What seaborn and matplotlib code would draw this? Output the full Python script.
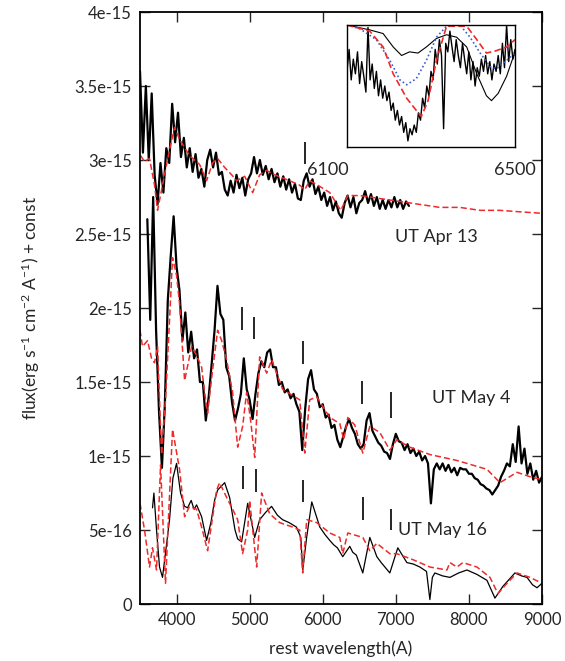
import numpy as np
import matplotlib
matplotlib.use("Agg")
import matplotlib.pyplot as plt
import seaborn as sns

# ---------------- data (flux in units of 1e-15) ----------------
# UT Apr 13 observed, sampled every 40 A from 3500 A
apr13_step = 40
apr13_flux = [3.60, 3.05, 3.50, 3.00, 3.45, 2.90, 2.70, 2.98, 2.78, 3.08,
              2.98, 3.38, 3.12, 3.32, 3.02, 3.15, 2.95, 3.08, 2.92, 3.04,
              2.88, 2.94, 2.82, 3.00, 3.07, 2.95, 3.05, 2.90, 2.92, 2.80,
              2.76, 2.86, 2.78, 2.90, 2.81, 2.88, 2.76, 2.87, 2.91, 3.02,
              2.91, 3.00, 2.90, 2.96, 2.87, 2.94, 2.85, 2.91, 2.82, 2.89,
              2.80, 2.87, 2.78, 2.84, 2.74, 2.73, 2.86, 2.91, 2.82, 2.87,
              2.77, 2.82, 2.73, 2.78, 2.69, 2.75, 2.66, 2.72, 2.64, 2.61,
              2.71, 2.76, 2.68, 2.75, 2.64, 2.71, 2.73, 2.79, 2.71, 2.77,
              2.69, 2.75, 2.67, 2.73, 2.67, 2.73, 2.68, 2.75, 2.68, 2.73,
              2.67, 2.72, 2.69]
apr13_model_wave = [3507, 3562, 3630, 3699, 3740, 3808, 3904, 3973, 4041, 4178,
                    4315, 4411, 4493, 4562, 4658, 4754, 4822, 4932, 5041, 5137,
                    5233, 5343, 5548, 5685, 5754, 5822, 5932, 6096, 6247, 6343,
                    6507, 6780, 7055, 7330, 7600, 7875, 8150, 8425, 8700, 9000]
apr13_model_flux = [3.03, 2.99, 3.01, 2.83, 2.66, 2.83, 3.07, 3.22, 3.14, 3.03,
                    2.97, 2.86, 2.98, 3.01, 2.95, 2.90, 2.86, 2.89, 2.78, 2.90,
                    2.93, 2.90, 2.86, 2.83, 2.80, 2.86, 2.83, 2.78, 2.66, 2.76,
                    2.76, 2.74, 2.72, 2.70, 2.68, 2.68, 2.66, 2.66, 2.65, 2.64]

# UT May 4 observed, sampled every 40 A from 3600 A
may4_step = 40
may4_flux = [2.60, 1.92, 2.75, 1.85, 1.30, 0.92, 1.35, 2.05, 2.35, 2.62,
             2.28, 2.12, 1.78, 1.97, 1.70, 1.84, 1.66, 1.72, 1.50, 1.50,
             1.24, 1.40, 1.62, 1.85, 2.15, 1.96, 1.92, 1.60, 1.54, 1.36,
             1.24, 1.32, 1.42, 1.66, 1.45, 1.38, 1.25, 1.42, 1.56, 1.64,
             1.60, 1.70, 1.72, 1.60, 1.60, 1.48, 1.50, 1.43, 1.45, 1.39,
             1.42, 1.35, 1.30, 1.04, 1.32, 1.52, 1.58, 1.45, 1.42, 1.33,
             1.35, 1.26, 1.28, 1.19, 1.21, 1.11, 1.06, 1.13, 1.20, 1.25,
             1.19, 1.15, 1.08, 1.05, 1.08, 1.24, 1.29, 1.17, 1.13, 1.09,
             1.07, 1.03, 1.02, 0.98, 1.08, 1.15, 1.10, 1.09, 1.04, 1.08,
             1.02, 1.05, 1.00, 1.03, 0.97, 1.00, 0.95, 0.68, 0.91, 0.95,
             0.91, 0.95, 0.90, 0.94, 0.89, 0.92, 0.87, 0.92, 0.91, 0.91,
             0.88, 0.88, 0.85, 0.84, 0.81, 0.80, 0.78, 0.77, 0.74, 0.77,
             0.80, 0.86, 0.90, 0.95, 0.93, 1.08, 0.96, 1.20, 0.95, 1.05,
             0.88, 0.95, 0.84, 0.90, 0.82, 0.86]
may4_model_wave = [3500, 3534, 3603, 3658, 3699, 3740, 3795, 3849, 3904, 3945,
                   4000, 4041, 4110, 4206, 4274, 4343, 4384, 4425, 4493, 4562,
                   4617, 4685, 4767, 4836, 4904, 4959, 5014, 5069, 5137, 5233,
                   5302, 5452, 5685, 5754, 5822, 5918, 6096, 6233, 6288, 6343,
                   6438, 6548, 6644, 6780, 6918, 7014, 7192, 7466, 7836, 8247,
                   8425, 8658, 8836, 9000]
may4_model_flux = [1.85, 1.74, 1.78, 1.66, 1.63, 1.74, 1.01, 1.38, 1.92, 2.34,
                   2.22, 2.03, 1.51, 1.74, 1.68, 1.60, 1.43, 1.29, 1.58, 1.85,
                   1.78, 1.65, 1.43, 1.06, 1.20, 1.43, 1.24, 0.99, 1.67, 1.56,
                   1.65, 1.45, 1.38, 1.02, 1.38, 1.40, 1.26, 1.22, 1.11, 1.26,
                   1.21, 1.02, 1.20, 1.16, 1.04, 1.11, 1.06, 1.01, 0.97, 0.91,
                   0.82, 0.89, 0.86, 0.84]

# UT May 16 observed (smoothed) and model
may16_wave = [3671, 3690, 3726, 3767, 3808, 3850, 3904, 3950, 4000, 4055,
              4110, 4151, 4200, 4240, 4274, 4343, 4411, 4470, 4520, 4562,
              4658, 4726, 4800, 4836, 4890, 4973, 5069, 5137, 5220, 5300,
              5380, 5450, 5540, 5640, 5700, 5726, 5780, 5850, 5960, 6030,
              6096, 6150, 6200, 6274, 6370, 6410, 6460, 6548, 6644, 6740,
              6800, 6918, 7027, 7151, 7240, 7329, 7420, 7466, 7500, 7534,
              7640, 7740, 7860, 7973, 8110, 8247, 8356, 8466, 8630, 8720,
              8795, 8870, 8932, 9000]
may16_flux = [0.65, 0.75, 0.50, 0.25, 0.18, 0.35, 0.57, 0.85, 0.95, 0.75,
              0.66, 0.65, 0.70, 0.64, 0.67, 0.59, 0.43, 0.55, 0.70, 0.77,
              0.82, 0.72, 0.50, 0.44, 0.42, 0.68, 0.45, 0.57, 0.62, 0.66,
              0.60, 0.57, 0.55, 0.52, 0.45, 0.23, 0.45, 0.69, 0.52, 0.47,
              0.43, 0.40, 0.38, 0.32, 0.39, 0.35, 0.33, 0.21, 0.45, 0.32,
              0.28, 0.21, 0.38, 0.28, 0.27, 0.25, 0.22, 0.03, 0.18, 0.21,
              0.19, 0.18, 0.21, 0.23, 0.20, 0.16, 0.04, 0.12, 0.21, 0.19,
              0.18, 0.13, 0.11, 0.14]
may16_model_wave = [3500, 3562, 3630, 3671, 3726, 3781, 3849, 3945, 4041, 4110,
                    4178, 4274, 4343, 4425, 4548, 4589, 4685, 4767, 4836, 4904,
                    4973, 5000, 5096, 5164, 5274, 5411, 5589, 5685, 5726, 5781,
                    5918, 6096, 6233, 6274, 6343, 6548, 6644, 6740, 6918, 7014,
                    7233, 7466, 7699, 7740, 7836, 7918, 8110, 8288, 8397, 8521,
                    8658, 8836, 9000]
may16_model_flux = [0.68, 0.50, 0.25, 0.38, 0.23, 0.94, 0.14, 1.18, 0.91, 0.59,
                    0.66, 0.64, 0.52, 0.36, 0.77, 0.82, 0.72, 0.64, 0.57, 0.34,
                    0.50, 0.70, 0.25, 0.75, 0.61, 0.55, 0.52, 0.50, 0.21, 0.57,
                    0.55, 0.48, 0.45, 0.34, 0.48, 0.45, 0.36, 0.41, 0.34, 0.34,
                    0.30, 0.25, 0.23, 0.28, 0.25, 0.28, 0.25, 0.18, 0.07, 0.14,
                    0.21, 0.18, 0.14]

# line-identification marks: wavelength, bottom, top
mark_wave = [5754, 4890, 5055, 5726, 6534, 6932, 4904, 5083, 5726, 6548, 6932]
mark_low = [2.97, 1.85, 1.79, 1.62, 1.35, 1.26, 0.78, 0.76, 0.69, 0.57, 0.50]
mark_high = [3.12, 2.01, 1.94, 1.78, 1.51, 1.43, 0.93, 0.91, 0.84, 0.72, 0.64]

epoch_labels = ["UT Apr 13", "UT May 4", "UT May 16"]
epoch_label_x = [6990, 7490, 7027]
epoch_label_y = [2.48, 1.39, 0.50]

# inset: normalised profile around 6100-6500 A
inset_step = 5
inset_obs = [0.62, 0.80, 0.55, 0.72, 0.60, 0.78, 0.52, 0.70, 0.58, 0.45,
             0.98, 0.55, 0.68, 0.48, 0.62, 0.42, 0.55, 0.40, 0.50, 0.38,
             0.45, 0.30, 0.36, 0.22, 0.30, 0.18, 0.25, 0.12, 0.20, 0.05,
             0.15, 0.10, 0.18, 0.12, 0.28, 0.22, 0.40, 0.32, 0.50, 0.42,
             0.62, 0.55, 0.80, 0.68, 0.88, 0.75, 0.15, 0.85, 0.78, 0.95,
             0.82, 0.70, 0.88, 0.75, 0.65, 0.85, 0.72, 0.60, 0.78, 0.55,
             0.70, 0.50, 0.65, 0.58, 0.72, 0.62, 0.75, 0.60, 0.70, 0.55,
             0.68, 0.62, 0.75, 0.60, 0.85, 0.65, 1.00, 0.70, 0.88, 0.72,
             0.80]
inset_red_wave = [6100, 6154, 6186, 6210, 6242, 6265, 6277, 6293, 6313, 6337,
                  6385, 6409, 6432, 6456, 6480, 6500]
inset_red = [1.00, 0.95, 0.82, 0.60, 0.40, 0.30, 0.25, 0.38, 0.71, 0.99,
             0.99, 0.88, 0.77, 0.79, 0.82, 0.88]
inset_blue_wave = [6100, 6130, 6170, 6202, 6226, 6242, 6265, 6289, 6313, 6337,
                   6369, 6393, 6417, 6441, 6456, 6480, 6500]
inset_blue = [1.00, 0.97, 0.88, 0.71, 0.55, 0.51, 0.56, 0.71, 0.90, 0.99,
              1.00, 0.90, 0.77, 0.66, 0.64, 0.71, 0.77]
inset_thin_wave = [6100, 6154, 6186, 6210, 6230, 6249, 6269, 6289, 6313, 6337,
                   6361, 6385, 6409, 6432, 6444, 6460, 6480, 6496, 6500]
inset_thin = [1.00, 0.96, 0.93, 0.82, 0.75, 0.78, 0.77, 0.82, 0.89, 0.92,
              0.90, 0.82, 0.60, 0.42, 0.38, 0.44, 0.58, 0.74, 0.77]

x_ticks = [4000, 5000, 6000, 7000, 8000, 9000]
y_ticks = [0, 0.5, 1.0, 1.5, 2.0, 2.5, 3.0, 3.5, 4.0]
y_tick_labels = ["0", "5e-16", "1e-15", "1.5e-15", "2e-15", "2.5e-15",
                 "3e-15", "3.5e-15", "4e-15"]

# ---------------- style ----------------
sns.set_style("ticks")
plt.rcParams['font.family'] = ['Lato', 'DejaVu Sans']
plt.rcParams['mathtext.default'] = 'regular'
plt.rcParams['font.size'] = 12

RED = '#ee2a2a'
BLUE = '#3a5fcd'
dash = (0, (4, 2))

fig = plt.figure(figsize=(5.65, 6.61), dpi=100)
ax = fig.add_axes([0.2478, 0.0862, 0.7115, 0.8956])

apr13_wave = np.arange(len(apr13_flux)) * apr13_step + 3500
may4_wave = np.arange(len(may4_flux)) * may4_step + 3600

sns.lineplot(x=apr13_wave, y=apr13_flux, ax=ax, color='black', lw=1.6,
             estimator=None, sort=False)
sns.lineplot(x=apr13_model_wave, y=apr13_model_flux, ax=ax, color=RED, lw=1.1,
             linestyle=dash, estimator=None, sort=False)
sns.lineplot(x=may4_wave, y=may4_flux, ax=ax, color='black', lw=1.6,
             estimator=None, sort=False)
sns.lineplot(x=may4_model_wave, y=may4_model_flux, ax=ax, color=RED, lw=1.1,
             linestyle=dash, estimator=None, sort=False)
sns.lineplot(x=may16_wave, y=may16_flux, ax=ax, color='black', lw=0.9,
             estimator=None, sort=False)
sns.lineplot(x=may16_model_wave, y=may16_model_flux, ax=ax, color=RED, lw=1.1,
             linestyle=dash, estimator=None, sort=False)

ax.vlines(mark_wave, mark_low, mark_high, color='black', lw=1.2)
for lab, lx, ly in zip(epoch_labels, epoch_label_x, epoch_label_y):
    ax.text(lx, ly, lab, ha='left', va='center', fontsize=13)

ax.set_xlim(3500, 9000)
ax.set_ylim(0, 4.0)
ax.set_xticks(x_ticks)
ax.set_yticks(y_ticks)
ax.set_yticklabels(y_tick_labels)
ax.tick_params(direction='in', length=7, width=1, top=True, right=True,
               labelsize=12, pad=6)
for s in ax.spines.values():
    s.set_linewidth(1.3)
    s.set_color('black')
ax.set_xlabel("rest wavelength(A)", fontsize=12.5)
ax.set_ylabel(r"flux(erg s$^{-1}$ cm$^{-2}$ A$^{-1}$) + const", fontsize=12.5)
ax.xaxis.set_label_coords(0.5, -0.062)
ax.yaxis.set_label_coords(-0.244, 0.5)

# ---------------- inset ----------------
axin = fig.add_axes([347 / 565, (661 - 147) / 661, 168 / 565, 122 / 661])
inset_wave = np.arange(len(inset_obs)) * inset_step + 6100
sns.lineplot(x=inset_wave, y=inset_obs, ax=axin, color='black', lw=1.0,
             estimator=None, sort=False)
sns.lineplot(x=inset_thin_wave, y=inset_thin, ax=axin, color='black', lw=0.8,
             estimator=None, sort=False)
sns.lineplot(x=inset_blue_wave, y=inset_blue, ax=axin, color=BLUE, lw=1.2,
             linestyle=(0, (1, 1.5)), estimator=None, sort=False)
sns.lineplot(x=inset_red_wave, y=inset_red, ax=axin, color=RED, lw=1.2,
             linestyle=dash, estimator=None, sort=False)
axin.set_xlim(6100, 6500)
axin.set_ylim(0, 1.0)
axin.set_xticks([])
axin.set_yticks([])
axin.set_xlabel("")
axin.set_ylabel("")
for s in axin.spines.values():
    s.set_linewidth(1.0)
    s.set_color('black')
axin.text(-0.113, -0.19, "6100", transform=axin.transAxes, ha='center',
          va='center', fontsize=13)
axin.text(1.0, -0.19, "6500", transform=axin.transAxes, ha='center',
          va='center', fontsize=13)

plt.savefig('out.png', dpi=100)
